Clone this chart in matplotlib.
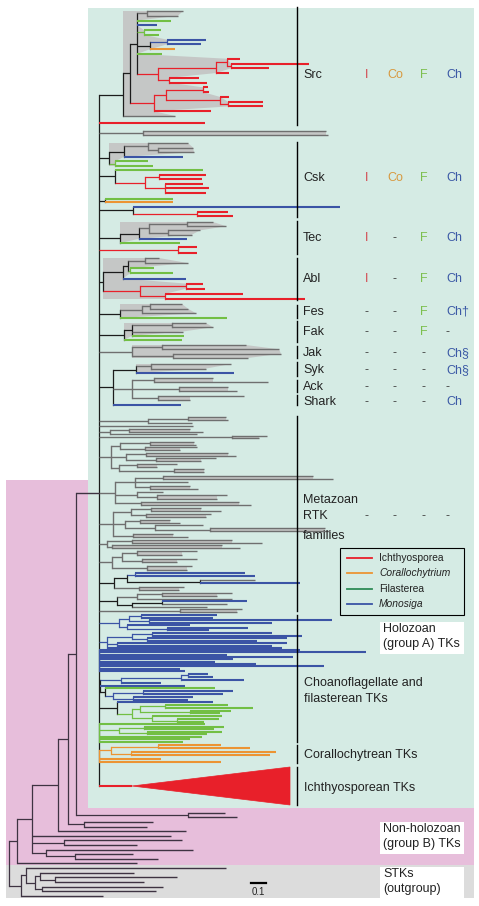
import numpy as np
import matplotlib.pyplot as plt
from matplotlib.patches import Rectangle, Polygon

plt.rcParams['font.family'] = ['Liberation Sans', 'DejaVu Sans']

# branch lengths are in scale-bar units: 15 units = 0.1 substitutions/site
# leaf codes: r Ichthyosporea, o Corallochytrium, g Filasterea, b Monosiga, k metazoan
src = ("((((k:36,k:31):10,g:34,b:20,(g:17,g:15):7,((b:39,b:34):17,o:25):13,g:25,"
       "(((r:13,(r:78,r:38):4):11,r:13):58,(r:30,r:38):11):21):7,"
       "(((r:5,r:6):37,(r:9,(r:35,r:35):8):54):12,r:57):24):7,k:52)*:24")
red_single = "r:106"
grey_pair = "(k:183,k:185):44"
csk_a = "(((k:40,(k:35,k:36):10):24,b:59):15,(g:33,g:38):6)*:10"
csk_b = "(g:88,((r:47,r:43):14,(r:38,r:44,r:41):20):30):16"
csk_c = "(g:68,o:68):6"
csk_d = "(b:207,(r:31,r:36):64):34"
tec_a = "((((k:26,k:39):38,(k:32,k:24):19):10,b:48):19,g:60)*:21"
tec_b = "(r:19,r:19):79"
abl = "((((k:14,k:43):17,(g:24,g:43):2):5,b:63):20,((r:17,r:19):46,(r:78,r:140):25):37)*:4"
fes = "(((k:32,k:38):8,k:54):22,g:107)*:21"
fak = "(((k:34,k:41):40,k:51,g:52):8,g:58)*:25"
jak = "((k:84,k:117):30,(k:108,k:75):41)*:33"
syk_ack_shark = ("(((k:80,k:55):15,b:98)*:23,((k:59,k:114):22,(k:49,k:58):47,"
                 "(k:86,k:32):26):19,b:68):14")
rtk_a1 = "((k:38,k:40):40,k:44):49"
rtk_a2 = "k:94"
rtk_a3 = "((k:61,k:74):19,k:87):11"
rtk_a4 = "(k:35,k:27):133"
rtk_b = ("(((k:44,k:46):30,(k:52,k:35):25):9,((k:82,k:90):20,(k:60,k:45):30):15,"
         "((k:40,k:20):18,(k:30,k:30):55):8):12")
rtk_c1 = "(((k:150,k:170):28,k:53,(k:40,k:48):15):20,(k:26,(k:70,k:60):20):22,(k:98,k:110):26):16"
rtk_c2 = ("(((k:50,k:70):20,(k:65,k:60):15):18,((k:30,k:40):15,(k:48,(k:115,k:120):55):30):12,"
          "(k:40,k:55):20):14")
rtk_c3 = "((k:100,k:130):25,(k:110,k:128):5):8"
rtk_c4 = "(((k:60,k:45):15,(k:55,k:35):20):10,(k:45,k:40):35):13"
rtk_d1 = "(((b:110,b:120):8,(k:55,b:100):73):13,(k:45,k:40):25):15"
rtk_d2 = "(((k:70,k:55):25,k:95):20,((b:85,k:65):30,k:75):15):18"
rtk_d3 = "(k:62,k:57):81"
choano_1 = "(((b:76,b:72):12,(b:183,b:123):20):10,(b:63,(b:81,b:42):40):8):20"
choano_2 = "(((b:120,b:150):20,(b:140,b:110):15):25,(b:170,b:155):10,b:175):8"
choano_3 = "(b:201,b:267,b:128,b:194,b:134,b:116,b:157,b:225,b:81,b:86):0"
choano_4 = "((((b:20,b:25):7,b:63):60,b:40):21,b:85,(g:110,((b:90,b:80):30,(b:60,b:55):20):8):5):1"
filast_1 = "(b:96,(((g:63,g:88):25,(g:41,g:30):50):8,(g:70,(g:42,g:27):25):20):15):18"
filast_2 = "(g:106,((g:80,g:70):25,(g:75,g:60):28):20,g:103,g:91,g:84):0"
coral = "(((o:63,o:92):47,(o:145,o:139):20):12,o:62,o:122):0"
ichthyo_stem = 33
ichthyo_depth = 158

# rest of the tree: H is the holozoan clade above, last clade is the STK outgroup
outer = ("((((((H:23,(k:37,k:49):112):8,(k:69,k:63):16):10,k:128):26,k:139,(k:118,k:73):32,"
         "(k:147,(k:58,k:83):29):14):15,k:120):7.5,"
         "((k:200,((k:94,(k:122,k:89):15):5,(k:121,k:114):7):9):5,k:82):12)")

families = ['Src', 'Csk', 'Tec', 'Abl', 'Fes', 'Fak', 'Jak', 'Syk', 'Ack', 'Shark']
presence = [['I', 'Co', 'F', 'Ch'], ['I', 'Co', 'F', 'Ch'], ['I', '-', 'F', 'Ch'],
            ['I', '-', 'F', 'Ch'], ['-', '-', 'F', 'Ch\u2020'], ['-', '-', 'F', '-'],
            ['-', '-', '-', 'Ch\u00a7'], ['-', '-', '-', 'Ch\u00a7'], ['-', '-', '-', '-'],
            ['-', '-', '-', 'Ch']]
legend_names = ['Ichthyosporea', 'Corallochytrium', 'Filasterea', 'Monosiga']

# ---- layout (pixel-like units, y downwards) ----
clades = [src, red_single, grey_pair, csk_a, csk_b, csk_c, csk_d, tec_a, tec_b, abl, fes, fak,
          jak, syk_ack_shark, rtk_a1, rtk_a2, rtk_a3, rtk_a4, rtk_b, rtk_c1, rtk_c2, rtk_c3,
          rtk_c4, rtk_d1, rtk_d2, rtk_d3, choano_1, choano_2, choano_3, choano_4, filast_1,
          filast_2, coral]
spans = [(11, 116), (123, 123), (131, 135), (143, 166), (170, 193), (199, 202), (207, 216),
         (222, 243), (247, 253), (258, 299), (304, 318), (323, 340), (345, 358), (364, 405),
         (417, 423), (426, 426), (429, 434), (436, 438), (442, 472), (476, 505), (508, 537),
         (540, 548), (551, 570), (573, 590), (593, 607), (609, 612), (615, 630), (633, 648),
         (650, 671), (674, 700), (702, 722), (724, 742), (745, 762)]
ichthyo_y, ichthyo_half = 786, 19
holo_root_x, holo_join_y = 99, 493
outer_root_x = 9.5
outer_span = (812.7, 863.3)
outgroup_span = (868, 896)

leaf_colors = {'r': '#e8202a', 'o': '#ec9433', 'g': '#72bf44', 'b': '#3b54a5', 'k': '#6f6f6f'}
inner_color = '#1c1c1c'
outer_color = '#3e3342'
shade_color = '#c5c7c6'


def parse(s):
    s = s.replace(' ', '')
    pos = 0

    def number():
        nonlocal pos
        if pos < len(s) and s[pos] == ':':
            pos += 1
            start = pos
            while pos < len(s) and s[pos] not in ',()':
                pos += 1
            return float(s[start:pos])
        return 0.0

    def node():
        nonlocal pos
        if s[pos] == '(':
            pos += 1
            kids = [node()]
            while s[pos] == ',':
                pos += 1
                kids.append(node())
            pos += 1
            shade = False
            if pos < len(s) and s[pos] == '*':
                shade = True
                pos += 1
            return {'kids': kids, 'len': number(), 'shade': shade}
        code = s[pos]
        pos += 1
        return {'code': code, 'len': number()}

    return node()


def leaves(n):
    if 'kids' not in n:
        return [n]
    out = []
    for k in n['kids']:
        out += leaves(k)
    return out


def place_x(n, px):
    n['px'] = px
    n['x'] = px + n['len']
    for k in n.get('kids', []):
        place_x(k, n['x'])


def place_y(n):
    if 'kids' in n:
        for k in n['kids']:
            place_y(k)
        n['y'] = (n['kids'][0]['y'] + n['kids'][-1]['y']) / 2


def spread(lv, a, b):
    for l, y in zip(lv, np.linspace(a, b, len(lv))):
        l['y'] = y


def colour(n):
    codes = {l['code'] for l in leaves(n)}
    if len(codes) == 1 and 'H' not in codes:
        return leaf_colors[codes.pop()]
    return inner_color


def shade(ax, n):
    if 'kids' not in n:
        return
    lv = leaves(n)
    cherry = all('kids' not in k for k in n['kids']) and all(l['code'] == 'k' for l in lv)
    if cherry and len(lv) > 1:
        right = min(l['x'] for l in lv)
        ax.add_patch(Rectangle((n['x'], lv[0]['y']), right - n['x'], lv[-1]['y'] - lv[0]['y'],
                               fc=shade_color, ec='none', zorder=1))
    elif n.get('shade'):
        pts = [(n['x'], lv[0]['y'])]
        for l in lv:
            pts.append((l['x'] if l['code'] == 'k' else l['px'], l['y']))
        pts.append((n['x'], lv[-1]['y']))
        ax.add_patch(Polygon(pts, closed=True, fc=shade_color, ec='none', zorder=1))
    for k in n['kids']:
        shade(ax, k)


def draw(ax, n, fixed=None):
    c = fixed or colour(n)
    leaf = 'kids' not in n
    if leaf and n['code'] != 'k' and n['code'] != 'H':
        lw = 1.5
    elif leaf or c == leaf_colors['k']:
        lw = 1.0
    else:
        lw = 0.9
    if n['len'] > 0:
        ax.plot([n['px'], n['x']], [n['y'], n['y']], color=c, lw=lw, zorder=2,
                solid_capstyle='butt')
    if not leaf:
        ys = [k['y'] for k in n['kids']]
        ax.plot([n['x'], n['x']], [min(ys), max(ys)], color=c, lw=lw, zorder=2,
                solid_capstyle='projecting')
        for k in n['kids']:
            draw(ax, k, fixed)


# ---- build holozoan tree ----
holo_kids = []
for s, (a, b) in zip(clades, spans):
    t = parse(s)
    spread(leaves(t), a, b)
    holo_kids.append(t)
ichthyo = {'code': 'r', 'len': ichthyo_stem, 'y': ichthyo_y}
holo = {'kids': holo_kids + [ichthyo], 'len': 0, 'shade': False}
place_x(holo, holo_root_x)
place_y(holo)

# ---- build outer tree ----
out_tree = parse(outer)
olv = leaves(out_tree)
olv[0]['y'] = holo_join_y
n_in = sum(1 for l in leaves(out_tree['kids'][0]) if l['code'] != 'H')
spread(olv[1:1 + n_in], *outer_span)
spread(olv[1 + n_in:], *outgroup_span)
place_x(out_tree, outer_root_x)
place_y(out_tree)

fig = plt.figure(figsize=(4.79, 9.06), dpi=100)
ax = fig.add_axes([0, 0, 1, 1])
ax.set_xlim(0, 479)
ax.set_ylim(906, 0)
ax.axis('off')

# background blocks
ax.add_patch(Rectangle((6, 480), 468, 385, fc='#e7bedb', ec='none', zorder=0))
ax.add_patch(Rectangle((6, 865), 468, 33, fc='#dcdcdc', ec='none', zorder=0))
ax.add_patch(Rectangle((88, 8), 386, 800, fc='#d5ebe4', ec='none', zorder=0))

shade(ax, holo)
draw(ax, holo)
draw(ax, out_tree, fixed=outer_color)

ix = ichthyo['x']
ax.add_patch(Polygon([(ix, ichthyo_y), (ix + ichthyo_depth, ichthyo_y - ichthyo_half),
                      (ix + ichthyo_depth, ichthyo_y + ichthyo_half)],
                     closed=True, fc=leaf_colors['r'], ec=leaf_colors['r'], lw=0.5, zorder=2))

# clade brackets
bracket_x = 297
brackets = [(7, 125), (142, 217), (221, 254), (258, 300), (305, 318), (321, 342), (346, 358),
            (362, 376), (380, 392), (395, 405), (416, 611), (615, 742), (745, 763), (767, 805)]
for a, b in brackets:
    ax.plot([bracket_x, bracket_x], [a, b], color='black', lw=1.0, zorder=3)

# family labels and presence columns
fam_y = [75, 178, 238, 279, 312, 332, 353, 370, 387, 402]
col_x = [367, 395, 424, 446]
col_colors = ['#d24950', '#d8993f', '#7cbf4e', '#3c5aa6']
for name, y, row in zip(families, fam_y, presence):
    ax.text(303, y, name, fontsize=9, va='center', ha='left', color='#222222', zorder=4)
    for j, (cx, v) in enumerate(zip(col_x, row)):
        c = '#444444' if v == '-' else col_colors[j]
        ha = 'left' if j == 3 else 'center'
        ax.text(cx, y, v, fontsize=9, va='center', ha=ha, color=c, zorder=4)

ax.text(303, 500, 'Metazoan', fontsize=9, va='center', color='#222222')
ax.text(303, 516, 'RTK', fontsize=9, va='center', color='#222222')
ax.text(303, 536, 'families', fontsize=9, va='center', color='#222222')
for cx in col_x:
    ax.text(cx if cx != 446 else 446, 516, '-', fontsize=9, va='center',
            ha='left' if cx == 446 else 'center', color='#444444')

ax.text(304, 683, 'Choanoflagellate and', fontsize=9, va='center', color='#222222')
ax.text(304, 699, 'filasterean TKs', fontsize=9, va='center', color='#222222')
ax.text(304, 755, 'Corallochytrean TKs', fontsize=9, va='center', color='#222222')
ax.text(304, 788, 'Ichthyosporean TKs', fontsize=9, va='center', color='#222222')

# white label boxes
for y0, lines in [(622, ['Holozoan', '(group A) TKs']), (822, ['Non-holozoan', '(group B) TKs']),
                  (867, ['STKs', '(outgroup)'])]:
    ax.add_patch(Rectangle((380, y0), 84, 32, fc='white', ec='none', zorder=3))
    for i, t in enumerate(lines):
        ax.text(383, y0 + 7 + 15 * i, t, fontsize=9, va='center', color='#222222', zorder=4)

# legend
ax.add_patch(Rectangle((340, 548), 124, 67, fc='none', ec='black', lw=0.8, zorder=3))
leg_line_colors = ['#e8202a', '#ec9433', '#2e8b57', '#3b54a5']
for i, (name, c) in enumerate(zip(legend_names, leg_line_colors)):
    y = 558 + 15.3 * i
    ax.plot([347, 372], [y, y], color=c, lw=1.3, zorder=4)
    style = 'italic' if name in ('Corallochytrium', 'Monosiga') else 'normal'
    ax.text(379, y, name, fontsize=7.4, va='center', style=style, color='#222222', zorder=4)

# scale bar
ax.plot([251, 266], [883, 883], color='black', lw=1.6)
ax.text(258.5, 892, '0.1', fontsize=7, ha='center', va='center', color='#222222')

fig.savefig('out.png', dpi=100)
